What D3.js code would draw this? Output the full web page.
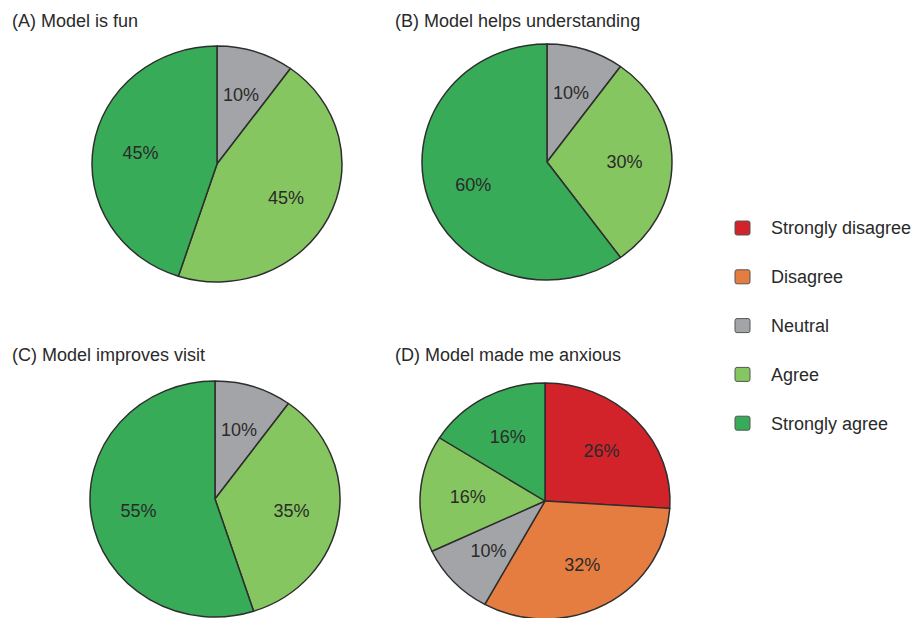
<!DOCTYPE html>
<html>
<head>
<meta charset="utf-8">
<script src="https://cdn.jsdelivr.net/npm/d3@7"></script>
<style>
  html, body { margin: 0; padding: 0; background: #fff; }
  svg { display: block; font-family: "Liberation Sans", Arial, Helvetica, sans-serif; }
</style>
</head>
<body>
<svg id="chart" width="911" height="618"></svg>
<script>
// ---- data ----
const categories = ["Strongly disagree", "Disagree", "Neutral", "Agree", "Strongly agree"];
const colors = ["#d2232a", "#e67d40", "#a3a4a7", "#86c661", "#38ab58"];
const titles = ["(A) Model is fun", "(B) Model helps understanding", "(C) Model improves visit", "(D) Model made me anxious"];
// values per category (percent), in category order
const valuesA = [0, 0, 10, 45, 45];
const valuesB = [0, 0, 10, 30, 60];
const valuesC = [0, 0, 10, 35, 55];
const valuesD = [26, 32, 10, 16, 16];

const panels = [
  { title: titles[0], values: valuesA, cx: 217, cy: 164, ty: 27, tx: 12 },
  { title: titles[1], values: valuesB, cx: 547, cy: 162, ty: 27, tx: 395 },
  { title: titles[2], values: valuesC, cx: 215, cy: 499, ty: 361, tx: 12 },
  { title: titles[3], values: valuesD, cx: 545, cy: 501, ty: 361, tx: 395 }
];

const svg = d3.select("#chart");
const R = 125, yScale = 0.944;
const color = d3.scaleOrdinal().domain(categories).range(colors);
const pie = d3.pie().sort(null).value(d => d.value);
const arc = d3.arc().innerRadius(0).outerRadius(R);
const labelArc = d3.arc().innerRadius(R * 0.62).outerRadius(R * 0.62);

panels.forEach(p => {
  const data = categories.map((c, i) => ({ cat: c, value: p.values[i] }));
  const arcs = pie(data).filter(d => d.data.value > 0);

  svg.append("text")
    .attr("x", p.tx).attr("y", p.ty)
    .attr("font-size", 18).attr("fill", "#2a2a2a")
    .text(p.title);

  const g = svg.append("g").attr("transform", `translate(${p.cx},${p.cy})`);
  const gs = g.append("g").attr("transform", `scale(1,${yScale})`);
  gs.selectAll("path").data(arcs).join("path")
    .attr("d", arc)
    .attr("fill", d => color(d.data.cat))
    .attr("stroke", "#2e2e2e")
    .attr("stroke-width", 1.5)
    .attr("stroke-linejoin", "round");

  g.selectAll("text").data(arcs).join("text")
    .attr("transform", d => {
      const [x, y] = labelArc.centroid(d);
      return `translate(${x},${y * yScale})`;
    })
    .attr("text-anchor", "middle")
    .attr("dy", "0.35em")
    .attr("font-size", 18)
    .attr("fill", "#2a2a2a")
    .text(d => d.data.value + "%");
});

// legend
const legend = svg.append("g").attr("transform", "translate(735,228)");
const li = legend.selectAll("g").data(categories).join("g")
  .attr("transform", (d, i) => `translate(0,${i * 48.8})`);
li.append("rect")
  .attr("x", 0).attr("y", -7).attr("width", 15).attr("height", 14)
  .attr("rx", 2)
  .attr("fill", d => color(d))
  .attr("stroke", "#555").attr("stroke-width", 1);
li.append("text")
  .attr("x", 36).attr("y", 0).attr("dy", "0.35em")
  .attr("font-size", 18).attr("fill", "#2a2a2a")
  .text(d => d);
</script>
</body>
</html>
